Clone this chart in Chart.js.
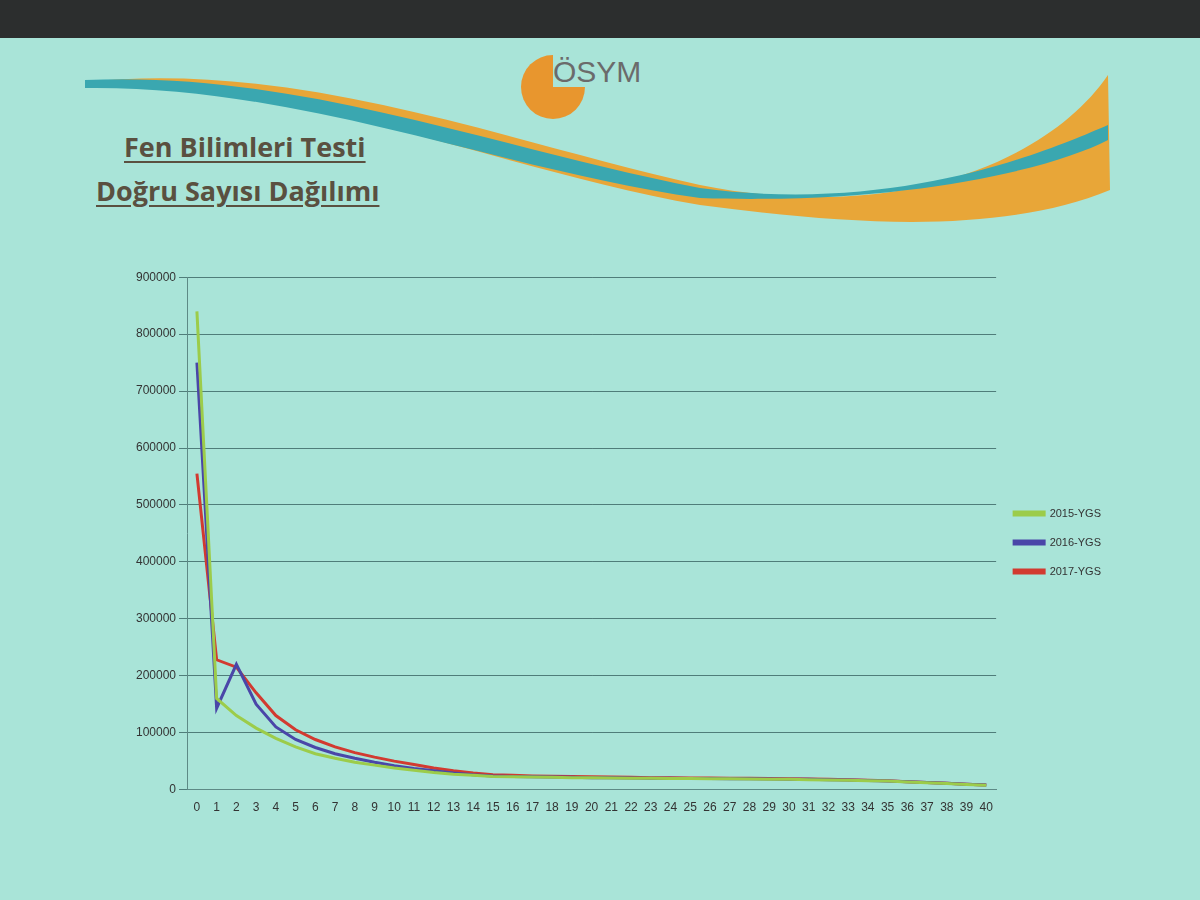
<!DOCTYPE html>
<html><head><meta charset="utf-8">
<script src="https://cdn.jsdelivr.net/npm/chart.js@4"></script>
<style>
body{margin:0;width:1200px;height:900px;background:#a9e4d8;position:relative;overflow:hidden;font-family:"Liberation Sans",sans-serif}
#top{position:absolute;left:0;top:0;width:1200px;height:38px;background:#2c2e2e}
.t{position:absolute;left:96px;color:#5a5040;font-family:"Open Sans",sans-serif;font-weight:bold;font-size:27px;text-decoration:underline;text-underline-offset:4px}
#wrap{position:absolute;left:133px;top:267px;width:988px;height:551px}
</style></head><body>
<div id="top"></div>
<svg width="1200" height="260" style="position:absolute;left:0;top:0">
<path d="M85,82 C300,60 500,140 700,185 C900,225 1050,160 1108,75 L1110,190 C1000,235 850,225 700,205 C500,170 300,80 85,88 Z" fill="#e8a638"/>
<path d="M85,80 C300,70 500,150 700,188 C900,215 1050,150 1108,125 L1108,140 C1050,170 900,205 700,198 C500,170 300,85 85,88 Z" fill="#3aa7b0"/>
<circle cx="553" cy="87" r="32" fill="#e8962e"/>
<rect x="553" y="55" width="34" height="32" fill="#a9e4d8"/>
<text x="553" y="82" font-family="Liberation Sans" font-size="30" fill="#6b6b6b">ÖSYM</text>
</svg>
<div class="t" style="top:128px;left:124px">Fen Bilimleri Testi</div>
<div class="t" style="top:172px">Doğru Sayısı Dağılımı</div>
<div id="wrap"><canvas id="c"></canvas></div>
<script>
const labels=[...Array(41).keys()].map(String);
const ygs2015=[840000,160000,130000,108000,90000,75000,63000,55000,48000,43000,38000,34000,30000,27000,25000,23000,22500,22000,21500,21000,21000,20500,20000,20000,19500,19500,19000,19000,18500,18000,18000,17500,17000,16500,15500,15000,13500,12000,10500,9000,7500];
const ygs2016=[750000,143000,220000,150000,110000,88000,74000,63000,55000,48000,42000,37000,33000,29000,26000,24000,23000,22500,22000,21500,21000,21000,20500,20000,20000,19500,19500,19000,19000,18500,18000,18000,17500,17000,16000,15000,14000,12500,11000,9500,8000];
const ygs2017=[555000,228000,215000,170000,130000,105000,88000,75000,65000,57000,50000,44000,38000,33000,29000,26000,25000,24000,23500,23000,22500,22000,21500,21000,21000,20500,20500,20000,20000,19500,19000,18500,18000,17500,16500,15500,14000,12500,11000,9500,8000];
new Chart(document.getElementById('c'),{type:'line',
data:{labels,datasets:[
{label:'2015-YGS',data:ygs2015,borderColor:'#9ccc4a',backgroundColor:'#9ccc4a'},
{label:'2016-YGS',data:ygs2016,borderColor:'#4a46a8',backgroundColor:'#4a46a8'},
{label:'2017-YGS',data:ygs2017,borderColor:'#d23a30',backgroundColor:'#d23a30'}]},
options:{responsive:true,maintainAspectRatio:false,animation:false,
elements:{point:{radius:0},line:{borderWidth:3,tension:0}},
layout:{padding:{right:10}},
plugins:{legend:{position:'right',align:'center',labels:{boxWidth:30,boxHeight:3,padding:18,color:'#333',font:{size:11}}},tooltip:{enabled:false}},
scales:{x:{offset:true,grid:{display:false},border:{color:'#5d8a86'},ticks:{color:'#333',font:{size:12},maxRotation:0,autoSkip:false}},
y:{min:0,max:900000,ticks:{stepSize:100000,color:'#333',font:{size:12},callback:v=>String(v)},grid:{color:'#4f7d7a',drawTicks:true},border:{color:'#5d8a86'}}}}});
</script></body></html>
